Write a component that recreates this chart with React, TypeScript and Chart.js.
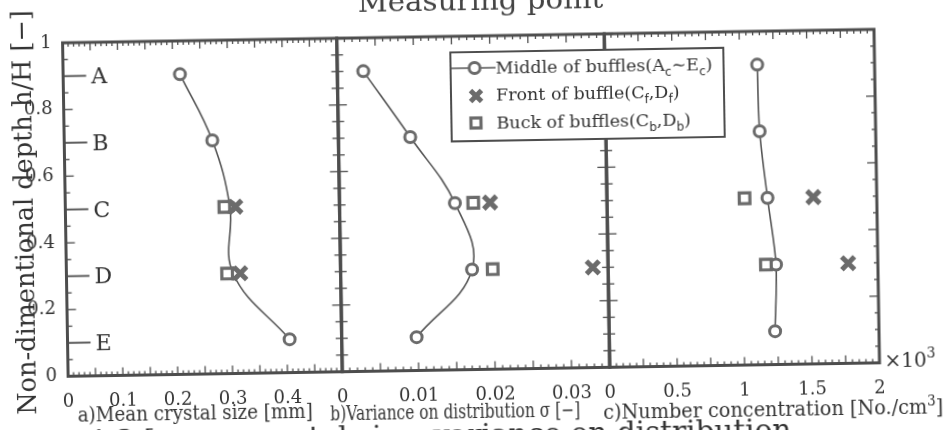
import React, { useEffect, useLayoutEffect, useRef, useState } from 'react';
import { Chart, registerables } from 'chart.js';

Chart.register(...registerables);

const SERIF = '"DejaVu Serif", serif';
const SANS = '"DejaVu Sans", sans-serif';
const INK = '#333333';
const FRAME = '#4d4d4d';
const LINE = '#555555';
const MARK = '#6b6b6b';

const W = 952;
const H = 430;
const PLOT_TOP = 36;
const PLOT_BOTTOM = 369.5;
const XAXIS_H = 50;

// measuring points along the tank depth (h/H)
const pointNames = ['A', 'B', 'C', 'D', 'E'];
const pointDepth = [0.9, 0.7, 0.5, 0.3, 0.1];
// front / back of baffle samples exist only at C and D
const baffleDepth = [0.5, 0.3];

// a) mean crystal size [mm]
const sizeMiddle = [0.213, 0.27, 0.3, 0.304, 0.405];
const sizeFront = [0.31, 0.317];
const sizeBack = [0.29, 0.293];

// b) variance on distribution sigma [-]
const varMiddle = [0.0034, 0.0094, 0.0151, 0.0172, 0.0098];
const varFront = [0.0197, 0.033];
const varBack = [0.0175, 0.0199];

// c) number concentration [x10^3 No./cm3]
const concMiddle = [1.13, 1.14, 1.19, 1.245, 1.23];
const concFront = [1.53, 1.78];
const concBack = [1.02, 1.17];

const yTicks = [0, 0.2, 0.4, 0.6, 0.8, 1];
const yTickLabels = ['0', '0.2', '0.4', '0.6', '0.8', '1'];
const sizeTicks = [0, 0.1, 0.2, 0.3, 0.4];
const sizeTickLabels = ['0', '0.1', '0.2', '0.3', '0.4'];
const varTicks = [0, 0.01, 0.02, 0.03];
const varTickLabels = ['0', '0.01', '0.02', '0.03'];
const concTicks = [0, 0.5, 1, 1.5, 2];
const concTickLabels = ['0', '0.5', '1', '1.5', '2'];

interface Panel {
  left: number;
  right: number;
  xMax: number;
  ticks: number[];
  labels: string[];
  minor: number;
  major: number;
  middle: number[];
  front: number[];
  back: number[];
  tension: number;
  first: boolean;
  rightTicks: 'cross' | 'in';
}

const panels: Panel[] = [
  {
    left: 65.5, right: 339.7, xMax: 0.5, ticks: sizeTicks, labels: sizeTickLabels,
    minor: 0.01, major: 0.05, middle: sizeMiddle, front: sizeFront, back: sizeBack,
    tension: 0.4, first: true, rightTicks: 'cross',
  },
  {
    left: 339.7, right: 607.2, xMax: 0.035, ticks: varTicks, labels: varTickLabels,
    minor: 0.001, major: 0.005, middle: varMiddle, front: varFront, back: varBack,
    tension: 0.4, first: false, rightTicks: 'cross',
  },
  {
    left: 607.2, right: 877, xMax: 2, ticks: concTicks, labels: concTickLabels,
    minor: 0.05, major: 0.25, middle: concMiddle, front: concFront, back: concBack,
    tension: 0.3, first: false, rightTicks: 'in',
  },
];

// Frame, inward tick marks and the measuring-point markers A..E
const framePlugin = {
  id: 'frame',
  beforeDatasetsDraw(chart: any, _args: unknown, opts: any) {
    const { ctx, chartArea } = chart;
    const { left, right, top, bottom } = chartArea;
    const xs = chart.scales.x;
    const ys = chart.scales.y;
    const seg = (x1: number, y1: number, x2: number, y2: number) => {
      ctx.beginPath();
      ctx.moveTo(x1, y1);
      ctx.lineTo(x2, y2);
      ctx.stroke();
    };
    ctx.save();
    ctx.strokeStyle = FRAME;
    ctx.lineWidth = 1.3;
    const nx = Math.round(xs.max / opts.minor);
    const perMajor = Math.round(opts.major / opts.minor);
    for (let i = 0; i <= nx; i++) {
      const px = xs.getPixelForValue(i * opts.minor);
      const len = i % perMajor === 0 ? 8 : 4;
      seg(px, bottom, px, bottom - len);
      seg(px, top, px, top + len);
    }
    for (let j = 0; j <= 20; j++) {
      const v = j * 0.05;
      const py = ys.getPixelForValue(v);
      const long = j % 4 === 0;
      const isPoint = pointDepth.some((d) => Math.abs(d - v) < 1e-6);
      if (opts.first && !isPoint) seg(left, py, left + (long ? 9 : 5), py);
      if (opts.rightTicks === 'cross') {
        const l = long ? 9 : 6;
        seg(right - l, py, right + l, py);
      } else {
        seg(right, py, right - (long ? 9 : 4), py);
      }
    }
    if (opts.first) {
      ctx.lineWidth = 1.8;
      ctx.font = `22px ${SERIF}`;
      ctx.fillStyle = INK;
      ctx.textAlign = 'left';
      ctx.textBaseline = 'alphabetic';
      pointDepth.forEach((d, i) => {
        const py = ys.getPixelForValue(d);
        seg(left, py, left + 23, py);
        ctx.fillText(pointNames[i], left + 28, py + 8);
      });
    }
    ctx.lineWidth = 3;
    ctx.strokeRect(left, top, right - left, bottom - top);
    ctx.restore();
  },
};

function panelConfig(p: Panel): any {
  const tickFont = { family: SERIF, size: 18 };
  const yScale: any = {
    type: 'linear',
    min: 0,
    max: 1,
    display: p.first,
    afterBuildTicks: (s: any) => {
      s.ticks = yTicks.map((v) => ({ value: v }));
    },
    grid: { display: false },
    border: { display: false },
    ticks: {
      callback: (_v: unknown, i: number) => yTickLabels[i],
      font: tickFont,
      color: INK,
      padding: 3,
      autoSkip: false,
    },
  };
  if (p.first) {
    yScale.afterFit = (s: any) => {
      s.width = p.left;
    };
  }
  return {
    type: 'scatter',
    data: {
      datasets: [
        {
          label: 'Middle of buffles',
          data: p.middle.map((v, i) => ({ x: v, y: pointDepth[i] })),
          showLine: true,
          tension: p.tension,
          borderColor: LINE,
          borderWidth: 1.6,
          pointStyle: 'circle',
          pointRadius: 5.5,
          pointBorderWidth: 3,
          pointBorderColor: MARK,
          pointBackgroundColor: '#ffffff',
          order: 3,
        },
        {
          label: 'Buck of buffles',
          data: p.back.map((v, i) => ({ x: v, y: baffleDepth[i] })),
          pointStyle: 'rect',
          pointRadius: 7.5,
          pointBorderWidth: 3.2,
          pointBorderColor: MARK,
          pointBackgroundColor: '#ffffff',
          order: 2,
        },
        {
          label: 'Front of buffle',
          data: p.front.map((v, i) => ({ x: v, y: baffleDepth[i] })),
          pointStyle: 'crossRot',
          pointRadius: 9,
          pointBorderWidth: 5,
          pointBorderColor: MARK,
          order: 1,
        },
      ],
    },
    options: {
      animation: false,
      responsive: false,
      devicePixelRatio: 1,
      events: [],
      layout: {
        padding: {
          left: p.first ? 0 : p.left,
          right: W - p.right,
          top: PLOT_TOP,
          bottom: H - PLOT_BOTTOM - XAXIS_H,
        },
      },
      plugins: {
        legend: { display: false },
        tooltip: { enabled: false },
        frame: {
          minor: p.minor,
          major: p.major,
          first: p.first,
          rightTicks: p.rightTicks,
        },
      },
      scales: {
        x: {
          type: 'linear',
          position: 'bottom',
          min: 0,
          max: p.xMax,
          afterBuildTicks: (s: any) => {
            s.ticks = p.ticks.map((v) => ({ value: v }));
          },
          afterFit: (s: any) => {
            s.height = XAXIS_H;
          },
          grid: { display: false },
          border: { display: false },
          ticks: {
            callback: (_v: unknown, i: number) => p.labels[i],
            font: tickFont,
            color: INK,
            padding: 7,
            autoSkip: false,
            maxRotation: 0,
          },
        },
        y: yScale,
      },
    },
    plugins: [framePlugin],
  };
}

interface FitProps {
  cx: number;
  cy: number;
  width: number;
  size: number;
  rotate?: number;
  family?: string;
  color?: string;
  children: React.ReactNode;
}

// Text centred on (cx, cy), stretched along its line to a given length
function FitText({ cx, cy, width, size, rotate = 0, family = SERIF, color = INK, children }: FitProps) {
  const ref = useRef<HTMLSpanElement>(null);
  const [k, setK] = useState(1);
  useLayoutEffect(() => {
    const el = ref.current;
    if (el && el.offsetWidth) setK(width / el.offsetWidth);
  }, [width]);
  return (
    <div
      style={{
        position: 'absolute',
        left: cx,
        top: cy,
        width: 0,
        height: 0,
        transform: `rotate(${rotate}deg) scaleX(${k})`,
        transformOrigin: '0 0',
      }}
    >
      <span
        ref={ref}
        style={{
          position: 'absolute',
          left: 0,
          top: 0,
          transform: 'translate(-50%, -50%)',
          whiteSpace: 'nowrap',
          fontFamily: family,
          fontSize: size,
          lineHeight: 1,
          color,
        }}
      >
        {children}
      </span>
    </div>
  );
}

const Sub = ({ children }: { children: React.ReactNode }) => (
  <span style={{ fontFamily: SANS, fontSize: 12, position: 'relative', top: 5 }}>{children}</span>
);

function Legend() {
  const rowY = [17, 44, 72];
  const rowStyle = (y: number): React.CSSProperties => ({
    position: 'absolute',
    left: 44,
    top: y - 10,
    fontFamily: SERIF,
    fontSize: 17.5,
    lineHeight: 1,
    whiteSpace: 'nowrap',
    color: INK,
  });
  return (
    <div
      style={{
        position: 'absolute',
        left: 452,
        top: 51.4,
        width: 275,
        height: 90.6,
        border: `2px solid ${FRAME}`,
        background: '#ffffff',
        boxSizing: 'border-box',
      }}
    >
      <svg width={271} height={87} style={{ position: 'absolute', left: 0, top: 0 }}>
        <line x1={0} y1={rowY[0] - 2} x2={44} y2={rowY[0] - 2} stroke={LINE} strokeWidth={1.6} />
        <circle cx={23} cy={rowY[0] - 2} r={5.5} fill="#ffffff" stroke={MARK} strokeWidth={3} />
        <line x1={18.5} y1={rowY[1] - 6.5} x2={29.5} y2={rowY[1] + 4.5} stroke={MARK} strokeWidth={5} />
        <line x1={29.5} y1={rowY[1] - 6.5} x2={18.5} y2={rowY[1] + 4.5} stroke={MARK} strokeWidth={5} />
        <rect x={18.5} y={rowY[2] - 7} width={10} height={10} fill="#ffffff" stroke={MARK} strokeWidth={3.2} />
      </svg>
      <div style={rowStyle(rowY[0])}>
        Middle of buffles(A<Sub>c</Sub>∼E<Sub>c</Sub>)
      </div>
      <div style={rowStyle(rowY[1])}>
        Front of buffle(C<Sub>f</Sub>,D<Sub>f</Sub>)
      </div>
      <div style={rowStyle(rowY[2])}>
        Buck of buffles(C<Sub>b</Sub>,D<Sub>b</Sub>)
      </div>
    </div>
  );
}

export default function App() {
  const refA = useRef<HTMLCanvasElement>(null);
  const refB = useRef<HTMLCanvasElement>(null);
  const refC = useRef<HTMLCanvasElement>(null);

  useEffect(() => {
    const refs = [refA, refB, refC];
    const charts = panels.map((p, i) => new Chart(refs[i].current as HTMLCanvasElement, panelConfig(p)));
    return () => charts.forEach((c) => c.destroy());
  }, []);

  const canvasStyle: React.CSSProperties = { position: 'absolute', left: 0, top: 0 };

  return (
    <div
      style={{
        position: 'fixed',
        left: 0,
        top: 0,
        width: W,
        height: H,
        overflow: 'hidden',
        background: '#ffffff',
      }}
    >
      <div
        style={{
          position: 'absolute',
          left: 0,
          top: 0,
          width: W,
          height: H,
          transform: 'rotate(-0.95deg)',
          transformOrigin: '476px 215px',
        }}
      >
        <canvas ref={refA} width={W} height={H} style={canvasStyle} />
        <canvas ref={refB} width={W} height={H} style={canvasStyle} />
        <canvas ref={refC} width={W} height={H} style={canvasStyle} />

        <FitText cx={483.5} cy={0.8} width={246} size={28} color="#444444">
          Measuring point
        </FitText>
        <FitText cx={24} cy={205} width={405} size={26} rotate={-90}>
          Non-dimentional depth h/H [−]
        </FitText>
        <FitText cx={191.5} cy={407.5} width={235} size={20}>
          a)Mean crystal size [mm]
        </FitText>
        <FitText cx={451.5} cy={411.2} width={250} size={20}>
          b)Variance on distribution σ [−]
        </FitText>
        <FitText cx={769.5} cy={413.6} width={340} size={20}>
          c)Number concentration [No./cm<span style={{ fontSize: 14, position: 'relative', top: -8 }}>3</span>]
        </FitText>
        <FitText cx={402.3} cy={434.5} width={772} size={30}>
          Fig. 4.3 [mean crystal size, variance on distribution
        </FitText>

        <div
          style={{
            position: 'absolute',
            left: 882,
            top: 357,
            fontFamily: SERIF,
            fontSize: 20,
            lineHeight: 1,
            color: INK,
            whiteSpace: 'nowrap',
          }}
        >
          ×10<span style={{ fontSize: 14, position: 'relative', top: -9 }}>3</span>
        </div>

        <Legend />
      </div>
    </div>
  );
}
